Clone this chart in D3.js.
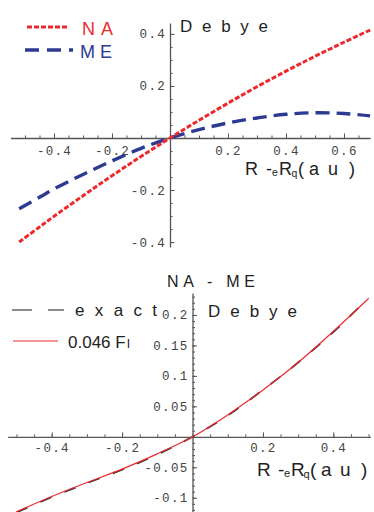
<!DOCTYPE html>
<html><head><meta charset="utf-8">
<script src="https://cdn.jsdelivr.net/npm/d3@7"></script>
<style>body{margin:0;background:#fff} svg{display:block}</style>
</head><body>
<svg id="c" width="374" height="512"></svg>
<script>
// ---- data: top panel (Debye, NA and ME) ----
const topX      = [-0.52, -0.45, -0.4, -0.3, -0.2, -0.1, 0, 0.1, 0.2, 0.3, 0.4, 0.5, 0.6, 0.69];
const naValues  = [-0.400, -0.342, -0.301, -0.222, -0.145, -0.071, 0, 0.068, 0.134, 0.197, 0.257, 0.314, 0.368, 0.415];
const meValues  = [-0.272, -0.228, -0.196, -0.140, -0.088, -0.040, 0, 0.032, 0.058, 0.077, 0.091, 0.097, 0.094, 0.085];
const topXTicks = [-0.4, -0.2, 0.2, 0.4, 0.6];
const topYTicks = [-0.4, -0.2, 0.2, 0.4];
// ---- data: bottom panel (NA - ME) ----
const botX        = [-0.5, -0.4, -0.3, -0.2, -0.1, 0, 0.1, 0.2, 0.3, 0.4, 0.5];
const exactValues = [-0.124, -0.099, -0.076, -0.054, -0.029, 0, 0.035, 0.077, 0.122, 0.172, 0.228];
const fitValues   = [-0.123, -0.098, -0.075, -0.053, -0.028, 0, 0.036, 0.077, 0.122, 0.173, 0.227];
const botXTicks = [-0.4, -0.2, 0.2, 0.4];
const botYTicks = [-0.1, -0.05, 0.05, 0.1, 0.15, 0.2];

const RED = "#ec2a2e", BLUE = "#2c3a92", AX = "#555";
const svg = d3.select("#c");
const fmt = d => String(d);
const rng = (a, b, s) => d3.range(Math.round(a / s), Math.round(b / s) + 1).map(i => +(i * s).toFixed(4));

function panel(o) {
  const x = d3.scaleLinear().domain(o.xd).range(o.xr);
  const y = d3.scaleLinear().domain(o.yd).range(o.yr);
  const g = svg.append("g");
  g.append("g").attr("transform", `translate(0,${y(0)})`)
    .call(d3.axisTop(x).tickValues(o.xMinor).tickSize(2.5).tickSizeOuter(0).tickFormat(""));
  g.append("g").attr("transform", `translate(0,${y(0)})`)
    .call(d3.axisTop(x).tickValues(o.xTicks).tickSize(4.5).tickSizeOuter(0).tickFormat(""))
    .select(".domain").remove();
  g.append("g").attr("transform", `translate(0,${y(0)})`)
    .call(d3.axisBottom(x).tickValues(o.xTicks).tickSize(0).tickPadding(o.xPad).tickFormat(fmt))
    .call(s => s.select(".domain").remove());
  g.append("g").attr("transform", `translate(${x(0)},0)`)
    .call(d3.axisRight(y).tickValues(o.yMinor).tickSize(2.5).tickSizeOuter(0).tickFormat(""));
  g.append("g").attr("transform", `translate(${x(0)},0)`)
    .call(d3.axisRight(y).tickValues(o.yTicks).tickSize(4.5).tickSizeOuter(0).tickFormat(""))
    .select(".domain").remove();
  g.append("g").attr("transform", `translate(${x(0)},0)`)
    .call(d3.axisLeft(y).tickValues(o.yTicks).tickSize(0).tickPadding(4).tickFormat(fmt))
    .call(s => s.select(".domain").remove());
  g.selectAll(".domain").attr("stroke", AX).attr("stroke-width", 1.3);
  g.selectAll(".tick line").attr("stroke", AX).attr("stroke-width", 1);
  g.selectAll(".tick text").attr("fill", "#444")
    .style("font-family", "'Liberation Mono', 'DejaVu Sans Mono', monospace")
    .style("font-size", "12.5px").style("letter-spacing", "1.3px");
  return {x, y, g};
}

function spaced(t, x, y, w, size, color) {
  svg.append("text").attr("x", x).attr("y", y).text(t)
    .attr("textLength", w).attr("lengthAdjust", "spacing")
    .attr("fill", color).style("font-family", "'Liberation Sans', Arial, sans-serif")
    .style("font-size", size + "px");
}
function piece(t, x, y, size, color) {
  svg.append("text").attr("x", x).attr("y", y).text(t).attr("fill", color || "#222")
    .style("font-family", "'Liberation Sans', Arial, sans-serif").style("font-size", size + "px");
}
function axisTitle(x0, y0, s) {
  piece("R", x0, y0, s);
  piece("-", x0 + 21, y0, s);
  piece("e", x0 + 27, y0 + 1, s * 0.58);
  piece("R", x0 + 34, y0, s);
  piece("q", x0 + 46.5, y0 + 2, s * 0.58);
  piece("(", x0 + 53, y0, s);
  piece("a", x0 + 64, y0, s);
  piece("u", x0 + 83, y0, s);
  piece(")", x0 + 104, y0, s);
}

// ---------- top panel ----------
const T = panel({
  xd: [-0.55, 0.69], xr: [10.5, 370.1], yd: [0.442, -0.419], yr: [23, 247],
  xTicks: topXTicks, yTicks: topYTicks,
  xMinor: rng(-0.5, 0.65, 0.05), yMinor: rng(-0.4, 0.4, 0.05), xPad: 8
});
const lineT = d3.line().curve(d3.curveCatmullRom).x((d, i) => T.x(topX[i]));
svg.append("path").attr("d", lineT.y(d => T.y(d))(meValues))
  .attr("fill", "none").attr("stroke", BLUE).attr("stroke-width", 3.4).attr("stroke-dasharray", "14,7");
svg.append("path").attr("d", lineT.y(d => T.y(d))(naValues))
  .attr("fill", "none").attr("stroke", RED).attr("stroke-width", 3).attr("stroke-dasharray", "5,2");

svg.append("line").attr("x1", 27).attr("x2", 69).attr("y1", 27).attr("y2", 27)
  .attr("stroke", RED).attr("stroke-width", 3).attr("stroke-dasharray", "5,2");
svg.append("line").attr("x1", 25).attr("x2", 73).attr("y1", 50).attr("y2", 50)
  .attr("stroke", BLUE).attr("stroke-width", 3.4).attr("stroke-dasharray", "14,8");
spaced("NA", 82, 35, 31, 18, RED);
spaced("ME", 80, 58, 32, 18, BLUE);
spaced("Debye", 180, 32, 88, 17, "#222");
axisTitle(245, 175, 18);

// ---------- bottom panel ----------
const B = panel({
  xd: [-0.525, 0.505], xr: [7.7, 370.3], yd: [0.236, -0.125], yr: [293, 513],
  xTicks: botXTicks, yTicks: botYTicks,
  xMinor: rng(-0.5, 0.5, 0.05), yMinor: rng(-0.12, 0.23, 0.01), xPad: 6
});
const lineB = d3.line().curve(d3.curveCatmullRom).x((d, i) => B.x(botX[i]));
svg.append("path").attr("d", lineB.y(d => B.y(d))(exactValues))
  .attr("fill", "none").attr("stroke", "#333").attr("stroke-width", 1.8).attr("stroke-dasharray", "12,14");
svg.append("path").attr("d", lineB.y(d => B.y(d))(fitValues))
  .attr("fill", "none").attr("stroke", RED).attr("stroke-width", 1.2);

spaced("NA - ME", 167, 287, 88, 16, "#222");
svg.append("line").attr("x1", 12).attr("x2", 64).attr("y1", 310).attr("y2", 310)
  .attr("stroke", "#666").attr("stroke-width", 1.5).attr("stroke-dasharray", "20,16");
spaced("exact", 75, 316, 82, 17, "#222");
svg.append("line").attr("x1", 13).attr("x2", 58).attr("y1", 341).attr("y2", 341)
  .attr("stroke", RED).attr("stroke-width", 1.1);
piece("0.046 F", 68, 348, 17, "#222");
piece("l", 127, 348, 13, "#222");
spaced("Debye", 208, 317, 89, 17, "#222");
axisTitle(257, 476, 19);
</script>
</body></html>
